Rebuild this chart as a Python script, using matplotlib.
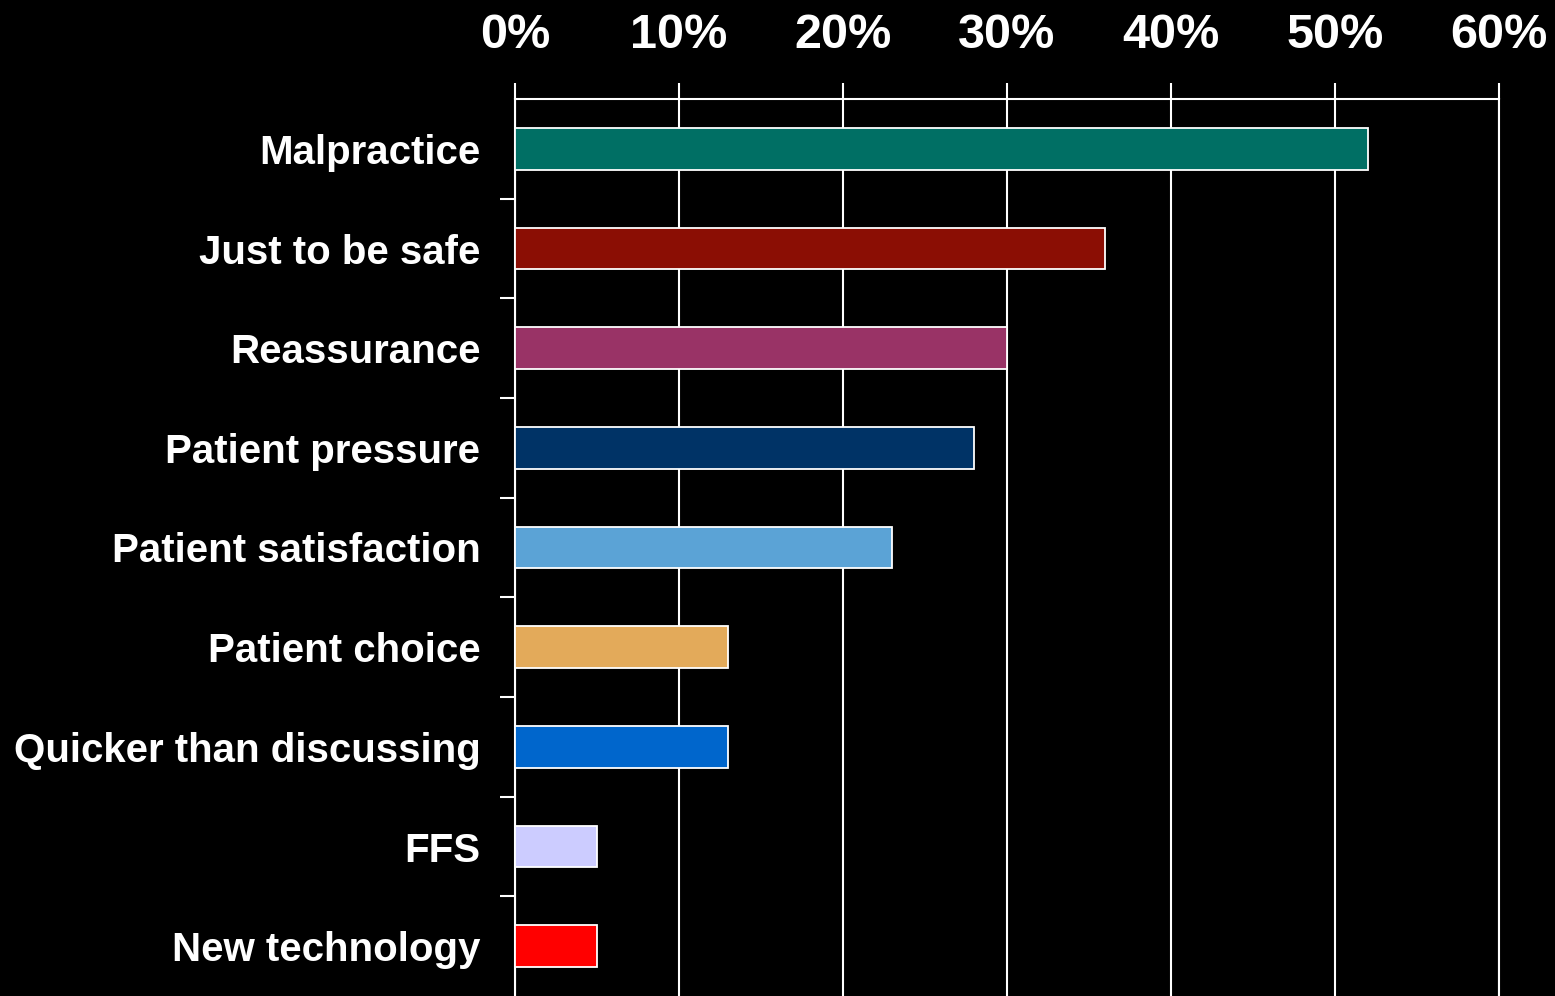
import matplotlib
matplotlib.use("Agg")
import matplotlib.pyplot as plt
import numpy as np
from matplotlib.ticker import FixedLocator, PercentFormatter

categories = [
    "Malpractice",
    "Just to be safe",
    "Reassurance",
    "Patient pressure",
    "Patient satisfaction",
    "Patient choice",
    "Quicker than discussing",
    "FFS",
    "New technology",
]
shares = [52, 36, 30, 28, 23, 13, 13, 5, 5]
bar_colors = [
    "#006F64", "#8B0E04", "#993366", "#003366", "#5BA3D6",
    "#E3AA5A", "#0066CC", "#CCCCFF", "#FF0000",
]
x_ticks = [0, 10, 20, 30, 40, 50, 60]

plt.rcParams["font.family"] = ["Liberation Sans", "DejaVu Sans"]
plt.rcParams["font.weight"] = "bold"

fig = plt.figure(figsize=(15.55, 9.96), dpi=100, facecolor="black")
ax = fig.add_axes([515 / 1555, 0.0, (1499 - 515) / 1555, 1 - 99 / 996])
ax.set_facecolor("black")

y = np.arange(len(categories))
ax.barh(y, shares, height=0.42, color=bar_colors, edgecolor="white",
        linewidth=1.3, zorder=3)

ax.set_xlim(0, 60)
ax.set_ylim(len(categories) - 0.5, -0.5)

ax.xaxis.set_major_locator(FixedLocator(x_ticks))
ax.xaxis.set_major_formatter(PercentFormatter(decimals=0))
ax.xaxis.tick_top()
ax.tick_params(axis="x", which="major", direction="out", length=11.5,
               width=1.5, color="white", labelcolor="white",
               labelsize=35, pad=18)
ax.grid(axis="x", color="white", linewidth=1.5, zorder=1)

ax.set_yticks(y)
ax.set_yticklabels(categories)
ax.yaxis.set_minor_locator(FixedLocator(np.arange(0.5, len(categories) - 0.5, 1)))
ax.tick_params(axis="y", which="major", length=0, labelcolor="white",
               labelsize=29, pad=25)
ax.tick_params(axis="y", which="minor", direction="out", length=11,
               width=1.5, color="white")

for side in ("top", "left", "right"):
    ax.spines[side].set_color("white")
    ax.spines[side].set_linewidth(1.5)
ax.spines["bottom"].set_visible(False)

fig.savefig("out.png", dpi=100, facecolor="black")
